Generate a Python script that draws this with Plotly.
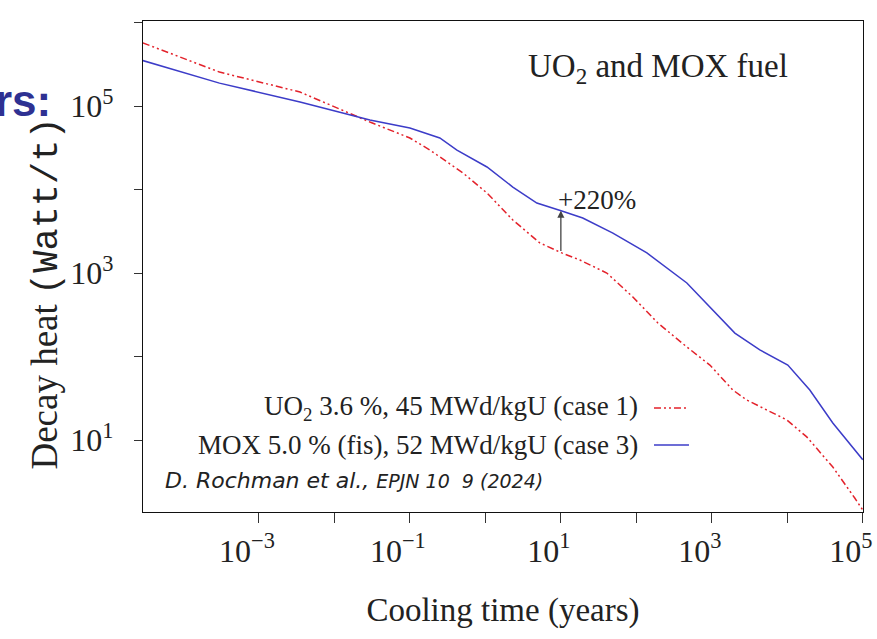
import numpy as np
import plotly.graph_objects as go

# ---- data: cooling time (years) vs decay heat (W/t) ----
uo2_time = [2.9e-5, 3.0e-4, 3.5e-3, 0.0295, 0.1, 0.184, 0.504, 1.05, 2.31, 5.27,
            10.3, 17.9, 40.6, 90, 193, 467, 942, 1900, 2910, 9840, 18100, 40100,
            78300, 1.0e5]
uo2_heat = [5.7e5, 2.55e5, 1.47e5, 6.43e4, 4.14e4, 2.97e4, 1.58e4, 9.08e3, 4.32e3,
            2.29e3, 1.74e3, 1.43e3, 1.0e3, 516, 252, 130, 79, 39.7, 30.1, 17.4,
            10.9, 4.75, 2.02, 1.45]

mox_time = [2.9e-5, 3.0e-4, 3.5e-3, 0.0295, 0.1, 0.249, 0.42, 1.05, 2.31, 4.81,
            10.3, 19.5, 48.9, 138, 467, 942, 2020, 4325, 10160, 19870, 40090, 1.0e5]
mox_heat = [3.5e5, 1.88e5, 1.12e5, 6.79e4, 5.46e4, 4.14e4, 2.97e4, 1.86e4, 1.07e4,
            6.89e3, 5.53e3, 4.56e3, 3.01e3, 1.74e3, 759, 392, 191, 120, 79, 39.7,
            16.0, 5.8]

series_names = ["UO<sub>2</sub> 3.6 %, 45 MWd/kgU (case 1)",
                "MOX 5.0 % (fis), 52 MWd/kgU (case 3)"]

x_exponents = list(range(-3, 6))
x_labelled = [-3, -1, 1, 3, 5]
y_exponents = list(range(1, 7))
y_labelled = [1, 3, 5]

arrow_time = 10.0
arrow_text = "+220%"
panel_title = "UO<sub>2</sub> and MOX fuel"
citation_main = "D. Rochman et al., "
citation_ref = "EPJN 10\u00a0\u00a09 (2024)"

RED = "#e3222b"
BLUE = "#3c3cc8"
SERIF = "Liberation Serif"
RED_DASH = "7px,3px,2px,3px,2px,3px"


def pow_label(e):
    s = str(e).replace("-", "\u2212")
    return f"10<sup>{s}</sup>"


fig = go.Figure()
fig.add_trace(go.Scatter(x=uo2_time, y=uo2_heat, mode="lines", name=series_names[0],
                         line=dict(color=RED, width=1.5, dash=RED_DASH),
                         showlegend=False))
fig.add_trace(go.Scatter(x=mox_time, y=mox_heat, mode="lines", name=series_names[1],
                         line=dict(color=BLUE, width=1.5),
                         showlegend=False))

# arrow between the two curves at t = 10 years (interpolated from the data)
lt = np.log10(arrow_time)
uo2_at = np.interp(lt, np.log10(uo2_time), np.log10(uo2_heat))
mox_at = np.interp(lt, np.log10(mox_time), np.log10(mox_heat))

annotations = [
    dict(x=lt, y=mox_at, ax=lt, ay=uo2_at, xref="x", yref="y", axref="x", ayref="y",
         text="", showarrow=True, arrowhead=2, arrowsize=1.1, arrowwidth=1.3,
         arrowcolor="#444444"),
    dict(x=lt, y=mox_at + 0.13, xref="x", yref="y", text=arrow_text, showarrow=False,
         xanchor="left", yanchor="middle", xshift=-5,
         font=dict(family=SERIF, size=27, color="#222222")),
    dict(x=0.7153, y=0.904, xref="paper", yref="paper", text=panel_title,
         showarrow=False, xanchor="center", yanchor="middle",
         font=dict(family=SERIF, size=33, color="#222222")),
    dict(x=0.028, y=0.064, xref="paper", yref="paper", showarrow=False,
         xanchor="left", yanchor="middle",
         text=f"<i>{citation_main}</i><i><span style='font-size:19px'>{citation_ref}</span></i>",
         font=dict(family="DejaVu Sans", size=22, color="#222222")),
    # y axis title
    dict(x=-0.136, y=0.445, xref="paper", yref="paper", showarrow=False,
         textangle=-90, xanchor="center", yanchor="middle",
         text="Decay heat <span style='font-family:Liberation Mono'>(Watt/t)</span>",
         font=dict(family=SERIF, size=37, color="#222222")),
    # slide title fragment
    dict(x=-0.125, y=0.839, xref="paper", yref="paper", showarrow=False,
         xanchor="right", yanchor="middle", text="<b>rs:</b>",
         font=dict(family="Liberation Sans", size=44, color="#2e3192")),
]

# custom legend (symbols on the right of the text)
legend_y = [0.2118, 0.1365]
legend_styles = [dict(color=RED, width=1.5, dash=RED_DASH), dict(color=BLUE, width=1.5)]
shapes = []
for name, yy, st in zip(series_names, legend_y, legend_styles):
    annotations.append(dict(x=0.690, y=yy, xref="paper", yref="paper", text=name,
                            showarrow=False, xanchor="right", yanchor="middle",
                            font=dict(family=SERIF, size=27, color="#222222")))
    shapes.append(dict(type="line", xref="paper", yref="paper", x0=0.7097, x1=0.7583,
                       y0=yy, y1=yy, line=st))

axis_common = dict(type="log", showgrid=False, zeroline=False, showline=True,
                   linecolor="#111111", linewidth=1.3, mirror=True, automargin=False,
                   ticks="outside", tickcolor="#333333", tickwidth=1.2,
                   tickfont=dict(family=SERIF, size=32, color="#222222"))

fig.update_layout(
    width=877, height=639,
    margin=dict(l=143, r=14, t=21, b=127, autoexpand=False),
    paper_bgcolor="white", plot_bgcolor="white",
    xaxis=dict(**axis_common, range=[-4.536, 5.003], ticklen=10,
               ticklabelshift=-12, ticklabeloverflow="allow",
               tickvals=[10.0 ** e for e in x_exponents],
               ticktext=[pow_label(e) if e in x_labelled else "" for e in x_exponents],
               title=dict(text="Cooling time (years)", standoff=30,
                          font=dict(family=SERIF, size=33, color="#222222"))),
    yaxis=dict(**axis_common, range=[0.138, 6.018], ticklen=8, ticklabelstandoff=14,
               tickvals=[10.0 ** e for e in y_exponents],
               ticktext=[pow_label(e) if e in y_labelled else "" for e in y_exponents]),
    annotations=annotations,
    shapes=shapes,
)

fig.write_html("out.html")
